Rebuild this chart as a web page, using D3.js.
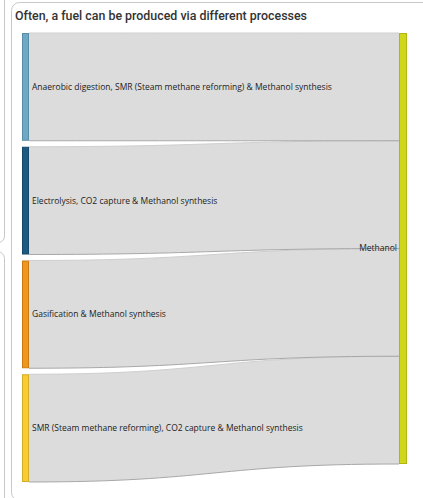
<!DOCTYPE html>
<html><head><meta charset="utf-8">
<script src="https://cdn.jsdelivr.net/npm/d3@7"></script>
<style>body{margin:0;background:#fff;}svg{display:block;}</style>
</head><body>
<svg id="chart" width="423" height="498"></svg>
<script>
const title = "Often, a fuel can be produced via different processes";
const sources = [
  "Anaerobic digestion, SMR (Steam methane reforming) & Methanol synthesis",
  "Electrolysis, CO2 capture & Methanol synthesis",
  "Gasification & Methanol synthesis",
  "SMR (Steam methane reforming), CO2 capture & Methanol synthesis"
];
const target = "Methanol";
const values = [1, 1, 1, 1];
const sourceColors = ["#6fa8c4", "#1c5a82", "#f0961c", "#f9cc32"];
const sourceStrokes = ["#5a8ea8", "#154768", "#c97c14", "#d4ad28"];
const targetColor = "#cfd71a";
const targetStroke = "#b0b514";

(function(){
const svg = d3.select("#chart");

svg.append("rect").attr("x",-10).attr("y",-10).attr("width",14.5).attr("height",253)
  .attr("rx",7).attr("fill","none").attr("stroke","#c8c8c8");
svg.append("rect").attr("x",-10).attr("y",251.5).attr("width",14.5).attr("height",260)
  .attr("rx",7).attr("fill","none").attr("stroke","#c8c8c8");
svg.append("rect").attr("x",11.5).attr("y",2.5).attr("width",430).attr("height",498)
  .attr("rx",8).attr("fill","#fff").attr("stroke","#c8c8c8");

svg.append("text").attr("x",15).attr("y",20).text(title)
  .attr("font-family","Roboto, sans-serif").attr("font-size",12.4).attr("font-weight",500).attr("fill","#333");

const yTop = 33, yBottom = 482, pad = 6;
const leftX0 = 22, leftX1 = 29, rightX0 = 399, rightX1 = 407;
const total = d3.sum(values);
const h = d3.scaleLinear().domain([0,total]).range([0,(yBottom - yTop - pad*(values.length-1))]);

let y = yTop;
const nodes = values.map((v,i)=>{ const n = {name:sources[i], y0:y, y1:y+h(v)}; y += h(v)+pad; return n; });
let ty = yTop;
const links = values.map((v,i)=>{ const l = {s0:nodes[i].y0, s1:nodes[i].y1, t0:ty, t1:ty+h(v)}; ty += h(v); return l; });
const tNode = {y0: yTop, y1: ty};

const mx = (leftX1 + rightX0)/2;
function linkPath(l){
  return `M${leftX1},${l.s0} C${mx},${l.s0} ${mx},${l.t0} ${rightX0},${l.t0}`+
         ` L${rightX0},${l.t1} C${mx},${l.t1} ${mx},${l.s1} ${leftX1},${l.s1} Z`;
}
function edgePath(a,b){ return `M${leftX1},${a} C${mx},${a} ${mx},${b} ${rightX0},${b}`; }

svg.append("g").selectAll("path").data(links).join("path")
  .attr("d",linkPath).attr("fill","#dcdcdc").attr("stroke","none");
svg.append("g").selectAll("path").data(links).join("path")
  .attr("d",l=>edgePath(l.s0,l.t0)).attr("fill","none").attr("stroke","#cfcfcf").attr("stroke-width",1);
svg.append("g").selectAll("path").data(links).join("path")
  .attr("d",l=>edgePath(l.s1,l.t1)).attr("fill","none").attr("stroke","#a8a8a8").attr("stroke-width",1);

svg.append("g").selectAll("rect").data(nodes).join("rect")
  .attr("x",leftX0+0.5).attr("y",d=>d.y0+0.5).attr("width",leftX1-leftX0-1).attr("height",d=>d.y1-d.y0-1)
  .attr("fill",(d,i)=>sourceColors[i]).attr("stroke",(d,i)=>sourceStrokes[i]);
svg.append("rect").attr("x",rightX0+0.5).attr("y",tNode.y0+0.5).attr("width",rightX1-rightX0-1)
  .attr("height",tNode.y1-tNode.y0-1).attr("fill",targetColor).attr("stroke",targetStroke);

svg.append("g").selectAll("text").data(nodes).join("text")
  .attr("x",32).attr("y",d=>(d.y0+d.y1)/2).attr("dy","0.35em").text(d=>d.name)
  .attr("font-family","Open Sans, sans-serif").attr("font-size",8.5).attr("fill","#222");
svg.append("text").attr("x",397).attr("y",(tNode.y0+tNode.y1)/2).attr("dy","0.35em")
  .attr("text-anchor","end").text(target)
  .attr("font-family","Open Sans, sans-serif").attr("font-size",8.5).attr("fill","#222");
})();
</script>
</body></html>
